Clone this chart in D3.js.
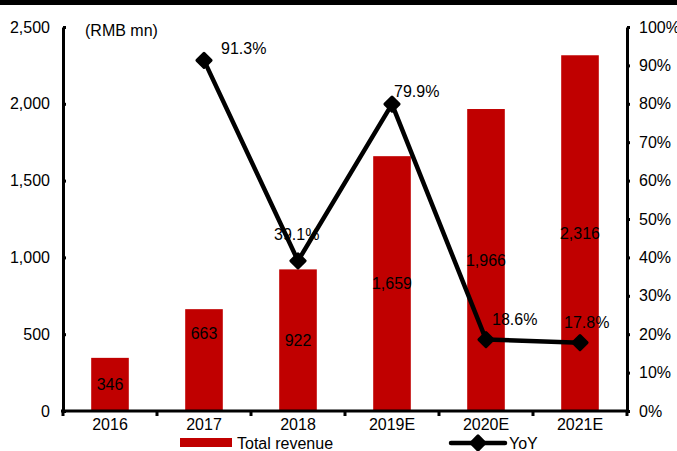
<!DOCTYPE html>
<head>
    <meta charset="utf-8">
    <title>Total revenue and YoY</title>
    <style>
        body { margin: 0; background: #fff; }
        text { font-family: "Liberation Sans", Arial, sans-serif; font-size: 16px; fill: #000; }
    </style>
</head>
<body>
<svg width="677" height="451"></svg>

<script src="https://cdnjs.cloudflare.com/ajax/libs/d3/7.8.5/d3.min.js"></script>
<script>

    //data
    var years = ["2016", "2017", "2018", "2019E", "2020E", "2021E"];
    var revenue = [346, 663, 922, 1659, 1966, 2316];
    var yoy = [null, 0.913, 0.391, 0.799, 0.186, 0.178];
    var leftTicks = [0, 500, 1000, 1500, 2000, 2500];
    var rightTicks = [0, 0.1, 0.2, 0.3, 0.4, 0.5, 0.6, 0.7, 0.8, 0.9, 1.0];

    //svg setting
    var svg = d3.select("svg"),
        width = +svg.attr("width"),
        height = +svg.attr("height");

    // plot box (window.top is read-only, so no "top" here)
    var plotL = 63, plotR = 627, plotT = 27, plotB = 411;

    //scaling
    var x = d3.scaleBand().domain(years).range([plotL, plotR]).paddingInner(0.6).paddingOuter(0.3);
    var yL = d3.scaleLinear().domain([0, 2500]).range([plotB, plotT]);
    var yR = d3.scaleLinear().domain([0, 1]).range([plotB, plotT]);
    var cx = d => x(d) + x.bandwidth() / 2;

    //top border
    svg.append("rect").attr("x", 0).attr("y", 0).attr("width", width).attr("height", 5).attr("fill", "#000");

    //bars
    svg.append("g").selectAll("rect")
        .data(years)
        .enter().append("rect")
            .attr("x", d => x(d))
            .attr("y", (d, i) => yL(revenue[i]))
            .attr("width", x.bandwidth())
            .attr("height", (d, i) => plotB - yL(revenue[i]))
            .attr("fill", "#c00000");

    //bar labels, sit mid bar (2017 one was nudged up in the original)
    var barNudge = [0, -27, 0, 0, 0, 0];
    svg.append("g").selectAll("text")
        .data(years)
        .enter().append("text")
            .attr("x", d => cx(d))
            .attr("y", (d, i) => yL(revenue[i] / 2) + barNudge[i])
            .attr("dy", "0.35em")
            .attr("text-anchor", "middle")
            .text((d, i) => d3.format(",")(revenue[i]));

    //yoy labels, offsets from marker
    var labOff = [null, [17, -12], [-24, -26], [2, -13], [6, -20], [-16, -20]];
    var pts = years.map((d, i) => ({ year: d, v: yoy[i], i: i })).filter(p => p.v != null);

    svg.append("g").selectAll("text")
        .data(pts)
        .enter().append("text")
            .attr("x", p => cx(p.year) + labOff[p.i][0])
            .attr("y", p => yR(p.v) + labOff[p.i][1])
            .attr("dy", "0.35em")
            .text(p => d3.format(".1%")(p.v));

    //yoy line
    var line = d3.line().x(p => cx(p.year)).y(p => yR(p.v));
    svg.append("path")
        .datum(pts)
        .attr("d", line)
        .attr("fill", "none")
        .attr("stroke", "#000")
        .attr("stroke-width", 4.5)
        .attr("stroke-linejoin", "round");

    var diamond = d3.symbol().type(d3.symbolSquare).size(100);
    svg.append("g").selectAll("path")
        .data(pts)
        .enter().append("path")
            .attr("d", diamond)
            .attr("transform", p => "translate(" + cx(p.year) + "," + yR(p.v) + ") rotate(45)")
            .attr("fill", "#000")
            .attr("stroke", "#000")
            .attr("stroke-width", 3)
            .attr("stroke-linejoin", "round");

    //axes
    function styleAxis(g) {
        g.select(".domain").attr("stroke", "#000").attr("stroke-width", 3);
        g.selectAll(".tick line").attr("stroke", "#000").attr("stroke-width", 3);
        g.selectAll(".tick text").style("font-family", "'Liberation Sans', Arial, sans-serif").style("font-size", "16px").attr("fill", "#000");
    }

    svg.append("g")
        .attr("transform", "translate(" + plotL + ",0)")
        .call(d3.axisLeft(yL).tickValues(leftTicks).tickFormat(d3.format(",")).tickSize(-3).tickSizeOuter(0).tickPadding(13))
        .call(styleAxis);

    svg.append("g")
        .attr("transform", "translate(" + plotR + ",0)")
        .call(d3.axisRight(yR).tickValues(rightTicks).tickFormat(d3.format(".0%")).tickSize(3).tickSizeOuter(0).tickPadding(9))
        .call(styleAxis);

    //bottom axis, ticks sit between categories
    var xAxis = svg.append("g")
        .attr("transform", "translate(0," + plotB + ")")
        .call(d3.axisBottom(x).tickSize(0).tickSizeOuter(0).tickPadding(8))
        .call(styleAxis);
    xAxis.select(".domain").attr("d", "M" + (plotL - 2) + ",0H" + (plotR + 2));

    var step = x.step();
    var bounds = years.map(d => x(d) - (step - x.bandwidth()) / 2).concat([plotR]);
    svg.append("g").selectAll("line")
        .data(bounds)
        .enter().append("line")
            .attr("x1", d => d).attr("x2", d => d)
            .attr("y1", plotB).attr("y2", plotB + 5)
            .attr("stroke", "#000").attr("stroke-width", 3);

    //unit note
    svg.append("text").attr("x", 85).attr("y", 30).attr("dy", "0.35em").text("(RMB mn)");

    //legend
    var lg = svg.append("g");
    lg.append("rect").attr("x", 180).attr("y", 438).attr("width", 52).attr("height", 9).attr("fill", "#c00000");
    lg.append("text").attr("x", 237).attr("y", 443).attr("dy", "0.35em").text("Total revenue");
    lg.append("line").attr("x1", 451).attr("x2", 505).attr("y1", 443).attr("y2", 443)
        .attr("stroke", "#000").attr("stroke-width", 4.5).attr("stroke-linecap", "round");
    lg.append("path").attr("d", diamond).attr("transform", "translate(478,443) rotate(45)")
        .attr("fill", "#000").attr("stroke", "#000").attr("stroke-width", 3).attr("stroke-linejoin", "round");
    lg.append("text").attr("x", 509).attr("y", 443).attr("dy", "0.35em").text("YoY");

</script>
</body>
